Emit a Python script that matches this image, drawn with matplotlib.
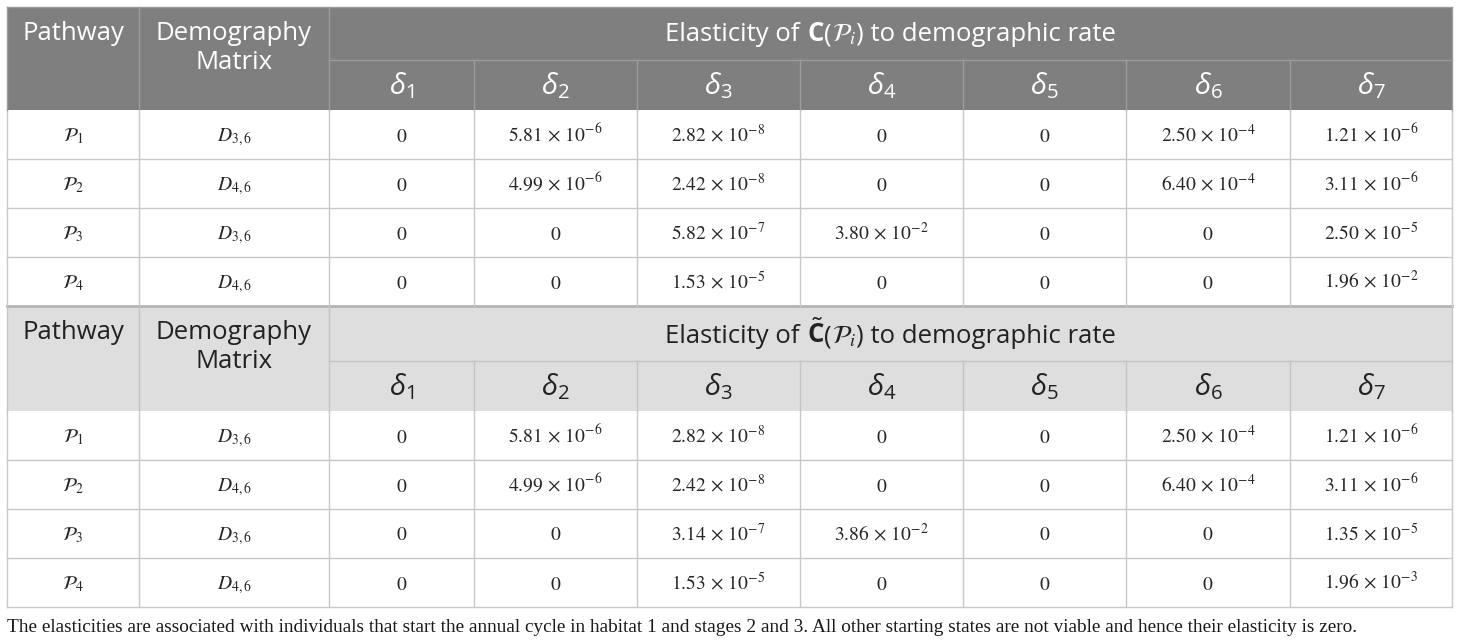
import numpy as np
import matplotlib.pyplot as plt
from matplotlib.offsetbox import TextArea, HPacker, AnnotationBbox

# table content
pathways = [1, 2, 3, 4]
matrices = ["3,6", "4,6", "3,6", "4,6"]
rates = ["1", "2", "3", "4", "5", "6", "7"]

elast_c = [
    [0, 5.81e-6, 2.82e-8, 0, 0, 2.50e-4, 1.21e-6],
    [0, 4.99e-6, 2.42e-8, 0, 0, 6.40e-4, 3.11e-6],
    [0, 0, 5.82e-7, 3.80e-2, 0, 0, 2.50e-5],
    [0, 0, 1.53e-5, 0, 0, 0, 1.96e-2],
]
elast_ctilde = [
    [0, 5.81e-6, 2.82e-8, 0, 0, 2.50e-4, 1.21e-6],
    [0, 4.99e-6, 2.42e-8, 0, 0, 6.40e-4, 3.11e-6],
    [0, 0, 3.14e-7, 3.86e-2, 0, 0, 1.35e-5],
    [0, 0, 1.53e-5, 0, 0, 0, 1.96e-3],
]
title_sym = [r"$\mathbf{C}$", r"$\tilde{\mathbf{C}}$"]
caption = ("The elasticities are associated with individuals that start the annual cycle "
           "in habitat 1 and stages 2 and 3. All other starting states are not viable and "
           "hence their elasticity is zero.")

plt.rcParams['mathtext.fontset'] = 'stix'
plt.rcParams['mathtext.rm'] = 'Open Sans'
plt.rcParams['mathtext.it'] = 'Open Sans:italic'
plt.rcParams['mathtext.bf'] = 'Open Sans:bold'
SANS = 'Open Sans'
SERIF = 'Liberation Serif'

xs = [7, 139, 329, 474, 637, 800, 963, 1126, 1290, 1452]
blocks = [(7, 60, 110, [159, 208, 257, 306]), (306, 361, 411, [460, 509, 558, 607])]
head_bg = ['#7f7f7f', '#dedede']
head_fg = ['white', '#222222']
head_ln = ['#9c9c9c', '#c4c4c4']
grid = '#c8c8c8'
HFS = 18.5


def fmt(v):
    if v == 0:
        return "$0$"
    m, e = ("%.2e" % v).split("e")
    return r"$%s\,\times\,10^{%d}$" % (m, int(e))


fig = plt.figure(figsize=(14.6, 6.44), dpi=100)
ax = fig.add_axes([0, 0, 1, 1])
ax.set_xlim(0, 1460)
ax.set_ylim(644, 0)
ax.axis('off')

for b, (top, mid, bot, rows) in enumerate(blocks):
    data = [elast_c, elast_ctilde][b]
    ax.add_patch(plt.Rectangle((xs[0], top), xs[-1] - xs[0], bot - top,
                               facecolor=head_bg[b], edgecolor='none'))
    lc = head_ln[b]
    ax.plot([xs[2], xs[-1]], [mid, mid], color=lc, lw=1)
    for x in xs[1:3]:
        ax.plot([x, x], [top, bot], color=lc, lw=1)
    for x in xs[3:-1]:
        ax.plot([x, x], [mid, bot], color=lc, lw=1)
    fg = head_fg[b]
    ax.text((xs[0] + xs[1]) / 2, top + 26, "Pathway", ha='center', va='center',
            color=fg, fontsize=HFS, family=SANS)
    ax.text((xs[1] + xs[2]) / 2, top + 26, "Demography", ha='center', va='center',
            color=fg, fontsize=HFS, family=SANS)
    ax.text((xs[1] + xs[2]) / 2, top + 55, "Matrix", ha='center', va='center',
            color=fg, fontsize=HFS, family=SANS)

    tp = dict(color=fg, fontsize=HFS, family=SANS)
    parts = [TextArea("Elasticity of ", textprops=tp),
             TextArea(title_sym[b], textprops=dict(tp, math_fontfamily='custom')),
             TextArea("(", textprops=tp),
             TextArea(r"$\mathcal{P}_i$", textprops=dict(tp, math_fontfamily='stix')),
             TextArea(") to demographic rate", textprops=tp)]
    pack = HPacker(children=parts, align='baseline', pad=0, sep=0)
    ab = AnnotationBbox(pack, ((xs[2] + xs[-1]) / 2, (top + mid) / 2 + 1),
                        xycoords='data', frameon=False, box_alignment=(0.5, 0.5))
    ax.add_artist(ab)

    for j, r in enumerate(rates):
        ax.text((xs[j + 2] + xs[j + 3]) / 2, (mid + bot) / 2 + 1, r"$\delta_%s$" % r,
                ha='center', va='center', color=fg, fontsize=21, family=SANS,
                math_fontfamily='custom')

    prev = bot
    for i, yb in enumerate(rows):
        yc = (prev + yb) / 2
        cells = [r"$\mathcal{P}_{%d}$" % pathways[i], r"$D_{%s}$" % matrices[i]]
        cells += [fmt(v) for v in data[i]]
        for j, s in enumerate(cells):
            ax.text((xs[j] + xs[j + 1]) / 2, yc + 7, s, ha='center', va='baseline',
                    color='#262626', fontsize=14, family=SERIF)
        lw = 2 if (b == 0 and i == 3) else 1
        ax.plot([xs[0], xs[-1]], [yb, yb], color='#b4b4b4' if lw == 2 else grid, lw=lw)
        prev = yb
    for x in xs:
        ax.plot([x, x], [bot, rows[-1]], color=grid, lw=1)
    ax.plot([xs[0], xs[0]], [top, bot], color=lc, lw=1)
    ax.plot([xs[-1], xs[-1]], [top, bot], color=lc, lw=1)

ax.plot([xs[0], xs[-1]], [7, 7], color='#9c9c9c', lw=1)

ax.text(xs[0], 627, caption, ha='left', va='center', color='#1a1a1a',
        fontsize=13.85, family=SERIF)

fig.savefig('out.png', dpi=100)
